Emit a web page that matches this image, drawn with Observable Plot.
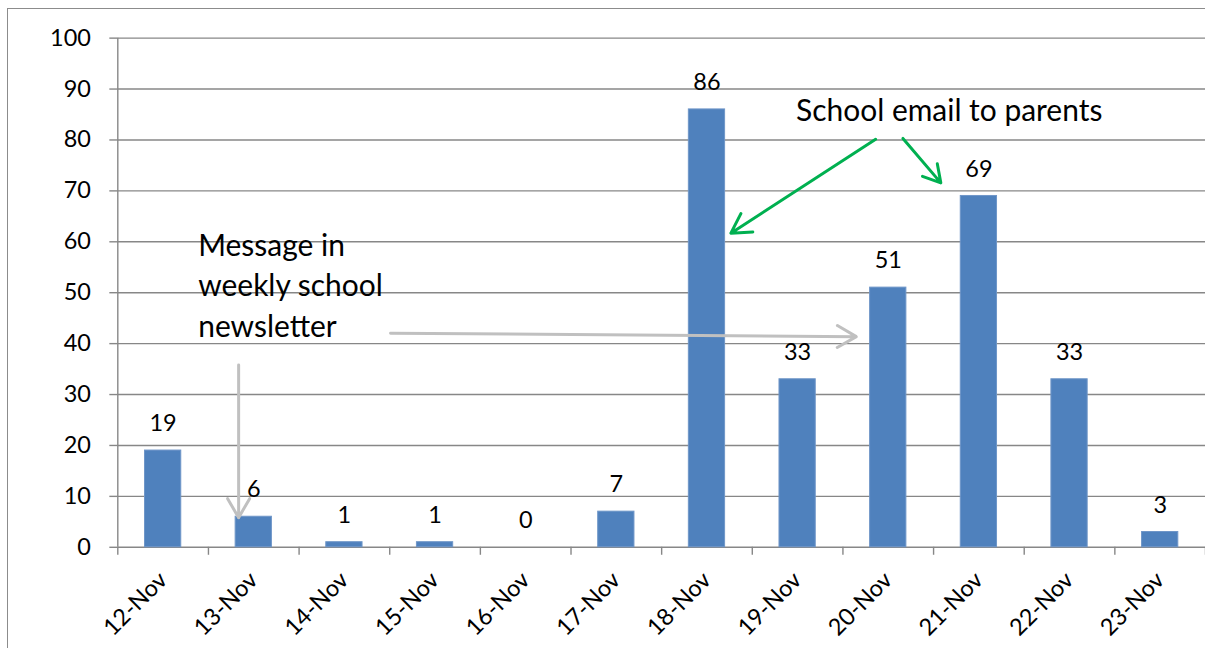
<!DOCTYPE html>
<html>
<head>
<meta charset="utf-8">
<script src="https://cdn.jsdelivr.net/npm/d3@7"></script>
<script src="https://cdn.jsdelivr.net/npm/@observablehq/plot@0.6"></script>
<style>
  html, body { margin: 0; padding: 0; background: #ffffff; overflow: hidden; }
  #chart { position: relative; width: 1205px; height: 648px; overflow: hidden; }
  #chart svg { position: absolute; left: 0; top: 0; }
  #border { position: absolute; left: 7px; top: 8px; right: -10px; bottom: -10px;
            border-left: 1.5px solid #8c8c8c; border-top: 1.5px solid #8c8c8c; pointer-events: none; }
</style>
</head>
<body>
<div id="chart"><div id="border"></div></div>
<script>
// Daily counts, 12–23 November
const days = ["12-Nov", "13-Nov", "14-Nov", "15-Nov", "16-Nov", "17-Nov",
              "18-Nov", "19-Nov", "20-Nov", "21-Nov", "22-Nov", "23-Nov"];
const counts = [19, 6, 1, 1, 0, 7, 86, 33, 51, 69, 33, 3];
const yTicks = [0, 10, 20, 30, 40, 50, 60, 70, 80, 90, 100];

// Callout texts, anchored in chart units (day slot index, count)
const noteText = ["School email to parents", "Message in\nweekly school\nnewsletter"];
const noteX = [7.483, 0.887];
const noteY = [86.2, 51.8];

// Callout arrows (tail -> head) in chart units
const arrowGroup = ["email", "email", "newsletter", "newsletter"];
const arrowX1 = [8.361, 8.662, 1.333, 3.009];
const arrowY1 = [80.14, 80.3, 35.8, 42.04];
const arrowX2 = [6.764, 9.080, 1.333, 8.148];
const arrowY2 = [61.7, 71.57, 5.82, 41.37];

const bars = days.map((day, i) => ({i, day, count: counts[i]}));
const notes = noteText.map((text, k) => ({text, x: noteX[k], y: noteY[k]}));
const arrows = arrowGroup.map((group, k) => ({
  group, x1: arrowX1[k], y1: arrowY1[k], x2: arrowX2[k], y2: arrowY2[k]
}));

const grid = "#878787";
const font = "Lato, 'Open Sans', sans-serif";
const labelSize = 23.5;

const chart = Plot.plot({
  width: 1207,
  height: 648,
  marginLeft: 117.5,
  marginRight: 0,
  marginTop: 37.7,
  marginBottom: 100.3,
  style: {fontFamily: font, color: "#000", background: "transparent", overflow: "visible"},
  x: {type: "linear", domain: [0, days.length], axis: null},
  y: {domain: [0, 100], axis: null},
  marks: [
    Plot.gridY(yTicks, {stroke: grid, strokeOpacity: 1, strokeWidth: 1.4}),
    Plot.axisY({ticks: yTicks, tickSize: 8, tickPadding: 19, fontSize: labelSize,
                stroke: grid, strokeWidth: 1.4, fill: "#000", label: null}),
    Plot.ruleX([0], {y1: 0, y2: 100, stroke: grid, strokeWidth: 1.4}),
    Plot.axisX({ticks: d3.range(days.length + 1), tickSize: 8, tickFormat: () => "",
                stroke: grid, strokeWidth: 1.4, label: null}),
    Plot.axisX({ticks: days.map((d, i) => i + 0.5), tickSize: 0, tickPadding: 29,
                tickRotate: -45, fontSize: labelSize, fill: "#000",
                tickFormat: v => days[Math.floor(v)], label: null}),
    Plot.rectY(bars, {x1: d => d.i + 0.3, x2: d => d.i + 0.7, y1: 0, y2: "count",
                      fill: "#4f81bd", stroke: "#6f96c8", strokeWidth: 1}),
    Plot.text(bars, {x: d => d.i + 0.5, y: "count", text: d => String(d.count),
                     dy: -27, fontSize: labelSize, fill: "#000"}),
    Plot.text(notes, {x: "x", y: "y", text: "text", textAnchor: "start",
                      lineAnchor: "middle", lineHeight: 1.34, fontSize: 30, fill: "#000"}),
    Plot.arrow(arrows, {x1: "x1", y1: "y1", x2: "x2", y2: "y2",
                        stroke: d => d.group === "email" ? "#00b050" : "#c0c0c0",
                        strokeWidth: 3, headLength: 11, headAngle: 60})
  ]
});

document.getElementById("chart").prepend(chart);
</script>
</body>
</html>
